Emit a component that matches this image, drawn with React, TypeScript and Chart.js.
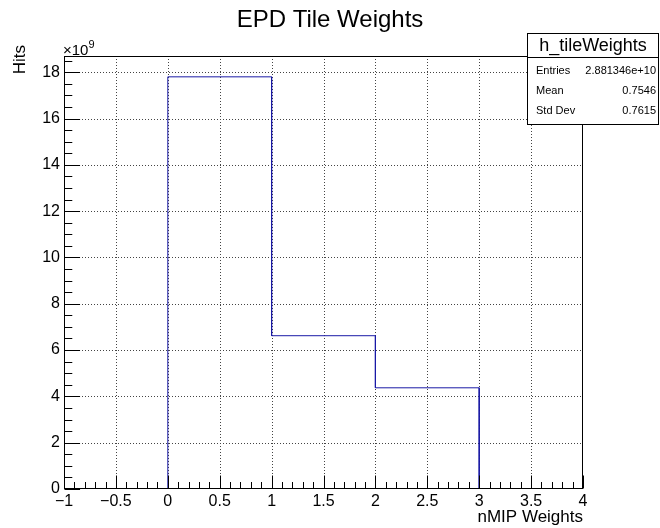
import React, { useEffect, useRef } from 'react';
import { Chart, registerables } from 'chart.js';
Chart.register(...registerables);

// ---- data ----
const binEdges = [0, 1, 2, 3];
const binCounts = [17.8e9, 6.62e9, 4.37e9];
const xTickValues = [-1, -0.5, 0, 0.5, 1, 1.5, 2, 2.5, 3, 3.5, 4];
const yTickValues = [0, 2e9, 4e9, 6e9, 8e9, 10e9, 12e9, 14e9, 16e9, 18e9];
const xMin = -1;
const xMax = 4;
const yMin = 0;
const yMax = 18.7e9;
const xMinorStep = 0.1;
const yMinorStep = 0.5e9;
const yExponent = 9;
const chartTitle = 'EPD Tile Weights';
const xTitle = 'nMIP Weights';
const yTitle = 'Hits';
const statsName = 'h_tileWeights';
const statsLabels = ['Entries', 'Mean', 'Std Dev'];
const statsValues = ['2.881346e+10', '0.7546', '0.7615'];

const FONT = '"Liberation Sans", Arial, Helvetica, sans-serif';

function fmt(v: number): string {
  return v < 0 ? '\u2212' + String(Math.abs(v)) : String(v);
}

function histPoints() {
  const pts: { x: number; y: number }[] = [{ x: binEdges[0], y: 0 }];
  for (let i = 0; i < binCounts.length; i++) {
    pts.push({ x: binEdges[i], y: binCounts[i] });
    pts.push({ x: binEdges[i + 1], y: binCounts[i] });
  }
  pts.push({ x: binEdges[binEdges.length - 1], y: 0 });
  return pts;
}

const rootPlugin = {
  id: 'rootDecor',
  beforeDatasetsDraw(chart: any) {
    const { ctx, chartArea: a, scales } = chart;
    const xs = scales.x, ys = scales.y;
    ctx.save();
    ctx.strokeStyle = '#444';
    ctx.lineWidth = 1;
    ctx.setLineDash([1, 2]);
    for (const v of xTickValues) {
      const px = Math.round(xs.getPixelForValue(v)) + 0.5;
      if (px <= a.left + 1 || px >= a.right - 1) continue;
      ctx.beginPath();
      ctx.moveTo(px, a.top);
      ctx.lineTo(px, a.bottom);
      ctx.stroke();
    }
    for (const v of yTickValues) {
      const py = Math.round(ys.getPixelForValue(v)) + 0.5;
      if (py <= a.top + 1 || py >= a.bottom - 1) continue;
      ctx.beginPath();
      ctx.moveTo(a.left, py);
      ctx.lineTo(a.right, py);
      ctx.stroke();
    }
    ctx.restore();
  },
  afterDatasetsDraw(chart: any) {
    const { ctx, chartArea: a, scales } = chart;
    const xs = scales.x, ys = scales.y;
    ctx.save();
    // frame
    ctx.strokeStyle = '#000';
    ctx.lineWidth = 1;
    ctx.setLineDash([]);
    const L = Math.round(a.left) + 0.5, R = Math.round(a.right) - 0.5;
    const T = Math.round(a.top) + 0.5, B = Math.round(a.bottom) - 0.5;
    ctx.strokeRect(L, T, R - L, B - T);
    // ticks
    const h = a.bottom - a.top, w = a.right - a.left;
    const xMaj = 0.03 * h, yMaj = 0.03 * w;
    ctx.beginPath();
    const nx = Math.round((xMax - xMin) / xMinorStep);
    for (let i = 0; i <= nx; i++) {
      const v = xMin + i * xMinorStep;
      const major = xTickValues.some((t) => Math.abs(t - v) < 1e-9);
      const px = Math.round(xs.getPixelForValue(v)) + 0.5;
      const len = major ? xMaj : xMaj / 2;
      ctx.moveTo(px, B);
      ctx.lineTo(px, B - len);
    }
    const ny = Math.floor((yMax - yMin) / yMinorStep + 1e-9);
    for (let i = 0; i <= ny; i++) {
      const v = yMin + i * yMinorStep;
      const major = yTickValues.some((t) => Math.abs(t - v) < 1);
      const py = Math.round(ys.getPixelForValue(v)) + 0.5;
      const len = major ? yMaj : yMaj / 2;
      ctx.moveTo(L, py);
      ctx.lineTo(L + len, py);
    }
    ctx.stroke();

    ctx.fillStyle = '#000';
    // exponent
    ctx.font = `15px ${FONT}`;
    ctx.textAlign = 'left';
    ctx.textBaseline = 'alphabetic';
    const base = '\u00d710';
    ctx.fillText(base, a.left - 1, a.top - 1);
    const bw = ctx.measureText(base).width;
    ctx.font = `11px ${FONT}`;
    ctx.fillText(String(yExponent), a.left - 1 + bw, a.top - 8);

    // axis titles
    ctx.font = `17px ${FONT}`;
    ctx.textAlign = 'right';
    ctx.fillText(xTitle, a.right, 522);
    ctx.save();
    ctx.translate(25, 45);
    ctx.rotate(-Math.PI / 2);
    ctx.textAlign = 'right';
    ctx.fillText(yTitle, 0, 0);
    ctx.restore();

    // main title
    ctx.font = `24px ${FONT}`;
    ctx.textAlign = 'center';
    ctx.fillText(chartTitle, 330, 27);

    // stats box
    const bx = 527.5, by = 33.5, bwid = 131, bh = 91, sep = 57.5;
    ctx.fillStyle = '#fff';
    ctx.fillRect(bx, by, bwid, bh);
    ctx.strokeStyle = '#000';
    ctx.strokeRect(bx, by, bwid, bh);
    ctx.beginPath();
    ctx.moveTo(bx, sep);
    ctx.lineTo(bx + bwid, sep);
    ctx.stroke();
    ctx.fillStyle = '#000';
    ctx.font = `18px ${FONT}`;
    ctx.textAlign = 'center';
    ctx.textBaseline = 'middle';
    ctx.fillText(statsName, bx + bwid / 2, 46);
    ctx.font = `11px ${FONT}`;
    const rowY = [71, 91, 111];
    statsLabels.forEach((lab, i) => {
      ctx.textAlign = 'left';
      ctx.fillText(lab, 536, rowY[i]);
      ctx.textAlign = 'right';
      ctx.fillText(statsValues[i], 656, rowY[i]);
    });
    ctx.restore();
  },
};

export default function App() {
  const ref = useRef<HTMLCanvasElement | null>(null);
  useEffect(() => {
    if (!ref.current) return;
    const chart = new Chart(ref.current, {
      type: 'scatter',
      data: {
        datasets: [
          {
            data: histPoints(),
            showLine: true,
            borderColor: '#1a1aa6',
            borderWidth: 1,
            pointRadius: 0,
            fill: false,
            tension: 0,
          },
        ],
      },
      options: {
        responsive: false,
        animation: false,
        events: [],
        layout: { padding: { top: 56, right: 77, left: 0, bottom: 0 } },
        plugins: { legend: { display: false }, tooltip: { enabled: false }, title: { display: false } },
        scales: {
          x: {
            type: 'linear',
            min: xMin,
            max: xMax,
            afterBuildTicks: (s: any) => {
              s.ticks = xTickValues.map((v) => ({ value: v }));
            },
            afterFit: (s: any) => {
              s.height = 39;
            },
            grid: { display: false, drawTicks: false },
            border: { display: false },
            ticks: {
              font: { family: FONT, size: 16 },
              color: '#000',
              padding: 3,
              maxRotation: 0,
              autoSkip: false,
              callback: (v: any) => fmt(Number(v)),
            },
          },
          y: {
            type: 'linear',
            min: yMin,
            max: yMax,
            afterBuildTicks: (s: any) => {
              s.ticks = yTickValues.map((v) => ({ value: v }));
            },
            afterFit: (s: any) => {
              s.width = 64;
            },
            grid: { display: false, drawTicks: false },
            border: { display: false },
            ticks: {
              font: { family: FONT, size: 16 },
              color: '#000',
              padding: 4,
              autoSkip: false,
              callback: (v: any) => String(Math.round(Number(v) / Math.pow(10, yExponent))),
            },
          },
        },
      },
      plugins: [rootPlugin],
    });
    return () => chart.destroy();
  }, []);
  return (
    <div style={{ position: 'fixed', left: 0, top: 0, width: 660, height: 528, background: '#fff' }}>
      <canvas ref={ref} width={660} height={528} style={{ width: 660, height: 528, display: 'block' }} />
    </div>
  );
}
